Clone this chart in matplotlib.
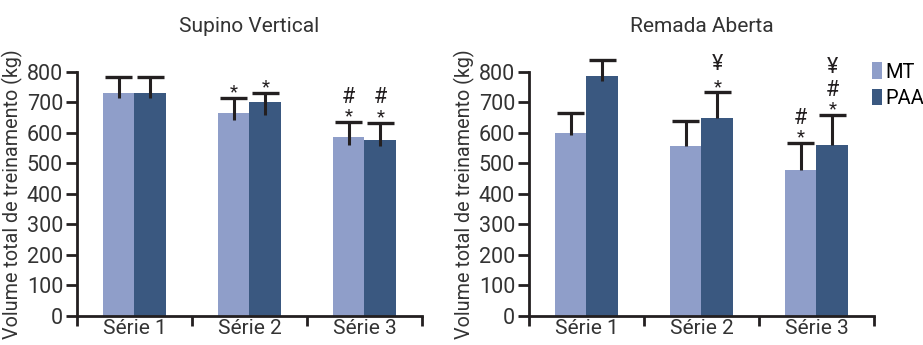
import matplotlib.pyplot as plt
import numpy as np

plt.rcParams['font.family'] = ['Roboto', 'DejaVu Sans']

series = ['Série 1', 'Série 2', 'Série 3']
groups = ['MT', 'PAA']
colors = ['#8f9ec9', '#3a5880']
ink = '#231f20'
txt = '#333333'

# Supino Vertical
sv_mean = {'MT': [732, 666, 588], 'PAA': [732, 701, 578]}
sv_up = {'MT': [51, 50, 47], 'PAA': [51, 31, 55]}
sv_down = {'MT': [18, 24, 27], 'PAA': [18, 42, 20]}
sv_marks = {'MT': ['', '*', '*\n#'], 'PAA': ['', '*', '*\n#']}

# Remada Aberta
ra_mean = {'MT': [601, 559, 480], 'PAA': [788, 650, 562]}
ra_up = {'MT': [64, 80, 87], 'PAA': [52, 83, 97]}
ra_down = {'MT': [9, 2, 0], 'PAA': [18, 0, 0]}
ra_marks = {'MT': ['', '', '*\n#'], 'PAA': ['', '*\n¥', '*\n#\n¥']}

fig = plt.figure(figsize=(9.23, 3.45), dpi=100)
ax1 = fig.add_axes([0.0834, 0.0841, 0.3738, 0.7072])
ax2 = fig.add_axes([0.5731, 0.0841, 0.3738, 0.7072])

w = 0.275
cap = 0.115
x = np.arange(len(series)) + 0.5


def draw_panel(ax, title, mean, up, down, marks):
    for k, g in enumerate(groups):
        pos = x + (k - 0.5) * w
        m = np.array(mean[g])
        top = m + np.array(up[g])
        ax.bar(pos, m, width=w, color=colors[k], label=g, zorder=1)
        ax.vlines(pos, m - np.array(down[g]), top, color=ink, lw=2.2, zorder=2, clip_on=False)
        ax.hlines(top, pos - cap, pos + cap, color=ink, lw=2.4, zorder=2, clip_on=False)
        for p, t, s in zip(pos, top, marks[g]):
            for j, sym in enumerate(s.split('\n')):
                if not sym:
                    continue
                off = 4 + j * 14 + (2 if sym == '¥' else 0)
                ax.annotate(sym, (p, t), xytext=(0, off), textcoords='offset points',
                            ha='center', va='center', fontsize=13.5 if sym == '*' else 15.5,
                            color=ink, annotation_clip=False)
    ax.set_xlim(0, 3)
    ax.set_ylim(0, 800)
    ax.set_yticks(range(0, 801, 100))
    ax.set_xticks([0, 1, 2, 3])
    ax.set_xticklabels([])
    ax.set_xticks(x, minor=True)
    ax.set_xticklabels(series, minor=True)
    ax.tick_params(axis='x', which='major', length=7, width=2, color=ink)
    ax.tick_params(axis='x', which='minor', length=0, pad=2, labelsize=15, labelcolor=txt)
    ax.tick_params(axis='y', length=8, width=2, color=ink, pad=2, labelsize=15.5, labelcolor=txt)
    for s in ['top', 'right']:
        ax.spines[s].set_visible(False)
    for s in ['left', 'bottom']:
        ax.spines[s].set_linewidth(2)
        ax.spines[s].set_color(ink)
    ax.set_title(title, fontsize=15, color=txt, pad=29)
    ax.set_ylabel('Volume total de treinamento (kg)', fontsize=14.2, color=txt, labelpad=3)


draw_panel(ax1, 'Supino Vertical', sv_mean, sv_up, sv_down, sv_marks)
draw_panel(ax2, 'Remada Aberta', ra_mean, ra_up, ra_down, ra_marks)

ax2.legend(loc='upper left', bbox_to_anchor=(0.995, 1.04), frameon=False, fontsize=14.5,
           handlelength=0.5, handleheight=0.9, handletextpad=0.15, borderaxespad=0,
           labelspacing=0.35, borderpad=0)

fig.savefig('out.png', dpi=100)
